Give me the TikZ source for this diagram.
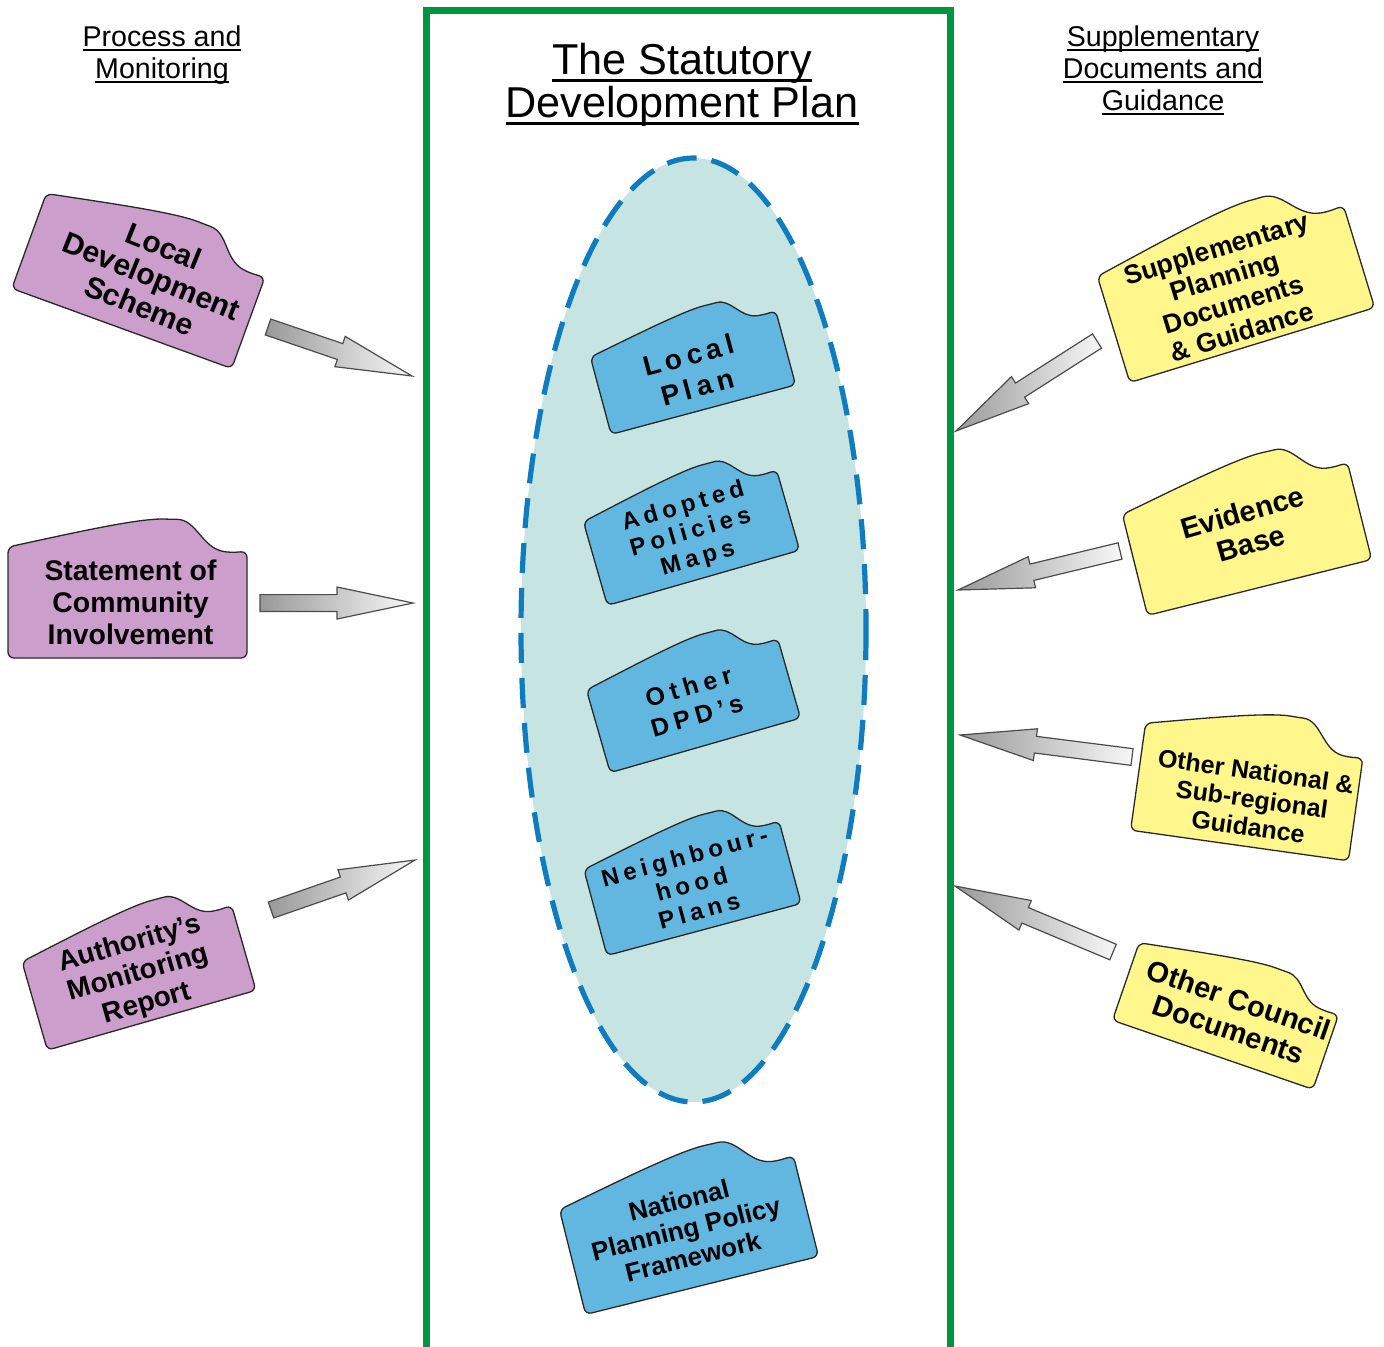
\documentclass[tikz,border=0pt]{standalone}
\usepackage{fontspec}
\setmainfont{Liberation Sans}
\usetikzlibrary{calc}

\newcommand\ul[1]{\setbox0\hbox{#1}\dp0=0pt\vtop{\copy0\kern0.1em\hrule height 0.06em width \wd0}}
\setlength\lineskiplimit{-20pt}

\definecolor{framegreen}{RGB}{0,150,64}
\definecolor{ovalfill}{RGB}{198,228,225}
\definecolor{ovalline}{RGB}{16,124,192}
\definecolor{pinkdoc}{RGB}{203,158,203}
\definecolor{yellowdoc}{RGB}{255,246,140}
\definecolor{bluedoc}{RGB}{98,183,224}
\definecolor{docline}{RGB}{40,40,40}

\tikzset{
  tagline/.style={draw=docline, line width=0.65pt, rounded corners=3pt},
  tagtext/.style={align=center, inner sep=0pt},
  blockarr/.style={draw=black!70, line width=0.6pt, left color=black!40, right color=black!3, line join=miter},
  heading/.style={align=center, inner sep=0pt, font=\fontsize{14.3}{16}\selectfont},
  frame/.style={draw=framegreen, line width=3.5pt},
  oval/.style={fill=ovalfill, draw=ovalline, line width=2.6pt, dash pattern=on 15pt off 7.5pt}
}

% name, x, y, angle, width, height, fill, text options, text
\newcommand\tagdoc[9]{%
  \begin{scope}[shift={(#2,#3)}, rotate=#4, xscale=#5, yscale=-#6]
    \draw[tagline, fill=#7] (-0.5,-0.5) -- (-0.5,0.5) .. controls (-0.2,0.64) and (0.05,0.76) .. (0.18,0.75)
      .. controls (0.29,0.75) and (0.31,0.49) .. (0.43,0.45) -- (0.5,0.46) -- (0.5,-0.5) -- cycle;
  \end{scope}
  \node[tagtext, rotate=#4, #8] (#1) at (#2,#3) {#9};}

% tail, head
\newcommand\blockarrow[2]{%
  \coordinate (#1-#2) at ($(#2)!38pt!(#1)$);
  \draw[blockarr] ($(#1)!4.2pt!90:(#2)$) -- ($(#1-#2)!4.2pt!-90:(#1)$) -- ($(#1-#2)!8pt!-90:(#1)$) -- (#2)
    -- ($(#1-#2)!8pt!90:(#1)$) -- ($(#1-#2)!4.2pt!90:(#1)$) -- ($(#1)!4.2pt!-90:(#2)$) -- cycle;}

\begin{document}
\begin{tikzpicture}[x=0.5pt, y=-0.5pt]
  \useasboundingbox (0,0) rectangle (1384,1346);

  % frame and oval
  \draw[frame] (426.5,1352) -- (426.5,10.5) -- (950.5,10.5) -- (950.5,1352);
  \draw[oval] (693.5,630) ellipse [x radius=172.5, y radius=472];

  % headings
  \node[heading] (pm) at (162,54) {\ul{Process and}\\\ul{Monitoring}};
  \node[heading] (sdg) at (1163,70) {\ul{Supplementary}\\\ul{Documents and}\\\ul{Guidance}};
  \node[heading, font=\fontsize{21.6}{21.5}\selectfont] (sdp) at (682,84) {\ul{The Statutory}\\\ul{Development Plan}};

  % process and monitoring
  \tagdoc{lds}{139}{281}{-20}{234}{101}{pinkdoc}{font=\bfseries\fontsize{15}{16}\selectfont, xshift=5pt, yshift=4.5pt, rotate=-2}{Local\\Development\\Scheme}
  \tagdoc{sci}{127.5}{602.5}{0}{239}{111}{pinkdoc}{font=\bfseries\fontsize{14.2}{16}\selectfont, xshift=1.5pt}{Statement of\\Community\\Involvement}
  \tagdoc{amr}{139}{976}{16}{217}{92}{pinkdoc}{font=\bfseries\fontsize{14}{15.5}\selectfont, yshift=1pt}{Authority’s\\Monitoring\\Report}

  % development plan
  \tagdoc{lp}{693}{371}{15}{191}{80}{bluedoc}{font=\bfseries\fontsize{14}{16.5}\selectfont\addfontfeature{LetterSpace=18}}{Local\\Plan}
  \tagdoc{apm}{691.5}{536}{16}{200}{87}{bluedoc}{font=\bfseries\fontsize{12}{13.5}\selectfont\addfontfeature{LetterSpace=20}, yshift=1.5pt}{Adopted\\Policies\\Maps}
  \tagdoc{odpd}{693.5}{704}{16}{198}{86}{bluedoc}{font=\bfseries\fontsize{12.5}{15}\selectfont\addfontfeature{LetterSpace=22}, yshift=1.5pt}{Other\\DPD’s}
  \tagdoc{nhp}{692.5}{886.5}{15}{201}{89}{bluedoc}{font=\bfseries\fontsize{12}{14}\selectfont\addfontfeature{LetterSpace=20}, yshift=1.5pt}{Neighbour-\\hood\\Plans}
  \tagdoc{nppf}{689}{1233}{14}{240}{108}{bluedoc}{font=\bfseries\fontsize{13}{14.5}\selectfont, yshift=2.5pt, xshift=-1pt}{National\\Planning Policy\\Framework}

  % supplementary documents
  \tagdoc{spd}{1236}{292}{17}{256}{111}{yellowdoc}{font=\bfseries\fontsize{13.3}{14.5}\selectfont, xshift=-3pt, yshift=2pt}{Supplementary\\Planning\\Documents\\\& Guidance}
  \tagdoc{eb}{1247}{537}{14}{231}{104}{yellowdoc}{font=\bfseries\fontsize{14.5}{16}\selectfont, xshift=1pt, yshift=4.5pt, rotate=2}{Evidence\\Base}
  \tagdoc{onsg}{1247}{792}{-8}{220}{108}{yellowdoc}{font=\bfseries\fontsize{12.5}{14}\selectfont, xshift=3pt, yshift=-3pt}{Other National \&\\Sub-regional\\Guidance}
  \tagdoc{ocd}{1226}{1016}{-19}{212}{82}{yellowdoc}{font=\bfseries\fontsize{14.5}{15.5}\selectfont, xshift=3.5pt, yshift=2pt}{Other Council\\Documents}

  % arrows into the plan
  \coordinate (lds-t) at (268,327);   \coordinate (lds-h) at (412,376);
  \coordinate (sci-t) at (260,603);   \coordinate (sci-h) at (413,603);
  \coordinate (amr-t) at (271,910);   \coordinate (amr-h) at (415,860);
  \coordinate (spd-t) at (1097,341);  \coordinate (spd-h) at (956,431);
  \coordinate (eb-t) at (1120,551);   \coordinate (eb-h) at (958,590);
  \coordinate (onsg-t) at (1132,757); \coordinate (onsg-h) at (960,735);
  \coordinate (ocd-t) at (1113,952);  \coordinate (ocd-h) at (955,886);
  \blockarrow{lds-t}{lds-h}
  \blockarrow{sci-t}{sci-h}
  \blockarrow{amr-t}{amr-h}
  \blockarrow{spd-t}{spd-h}
  \blockarrow{eb-t}{eb-h}
  \blockarrow{onsg-t}{onsg-h}
  \blockarrow{ocd-t}{ocd-h}
\end{tikzpicture}
\end{document}
